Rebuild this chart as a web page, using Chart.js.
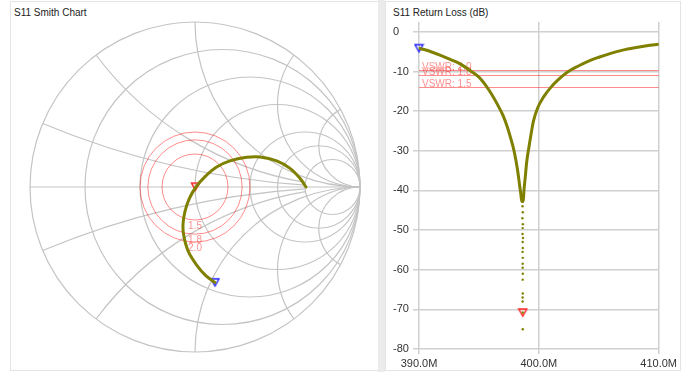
<!DOCTYPE html>
<html>
<head>
<meta charset="utf-8">
<script src="https://cdn.jsdelivr.net/npm/chart.js@4/dist/chart.umd.min.js"></script>
<style>
  html, body { margin: 0; padding: 0; background: #fff; width: 690px; height: 372px; overflow: hidden;
    font-family: "Liberation Sans", Arial, sans-serif; }
  .panel { position: absolute; box-sizing: border-box; border: 1px solid #e4e4e4; background: #fff; }
  .splitter { position: absolute; left: 378px; top: 0; width: 7px; height: 372px; background: #ebebeb; }
  .title { position: absolute; font-size: 10px; line-height: 10px; color: #222; white-space: nowrap; }
  canvas { position: absolute; }
</style>
</head>
<body>
<div class="panel" style="left:10px;top:1px;width:369px;height:370px"></div>
<div class="splitter"></div>
<div class="panel" style="left:385px;top:1px;width:296px;height:370px"></div>
<div class="title" style="left:14px;top:8px">S11 Smith Chart</div>
<div class="title" style="left:393px;top:8px">S11 Return Loss (dB)</div>
<canvas id="smith" width="368" height="372" style="left:10px;top:0"></canvas>
<canvas id="rl" width="295" height="372" style="left:385px;top:0"></canvas>

<script>
// ---- Smith chart: reflection coefficient of the sweep (real / imaginary part) ----
const smithRe = [0.121, 0.067, 0.010, -0.040, -0.067, -0.073, -0.061, -0.034, 0.006, 0.061,
                 0.131, 0.212, 0.313, 0.394, 0.495, 0.576, 0.636, 0.673];
const smithIm = [-0.578, -0.539, -0.473, -0.392, -0.301, -0.230, -0.149, -0.069, 0.000, 0.063,
                 0.121, 0.158, 0.180, 0.182, 0.158, 0.113, 0.053, 0.000];

// marker positions on the Smith chart (marker 1 = sweep start, marker 2 = best match)
const smithMarkerStart = { re: 0.121, im: -0.578 };
const smithMarkerMatch = { re: 0.003, im: 0.002 };

// grid of the Smith chart: constant-resistance circles and constant-reactance arcs
const smithResistances = [0.2, 0.5, 1, 2, 3, 5];
const smithReactances = [0.2, 0.5, 1, 2, 4];
const smithReactanceFromR = [5, 5, Infinity, Infinity, Infinity];   // arcs for small |X| stop at R = 5

// ---- Return loss vs frequency ----
const sweepMHz = [390.0, 391.0, 391.8, 392.6, 393.4, 394.2, 395.0, 395.6, 396.1, 396.6,
                  397.0, 397.35, 397.65, 397.9, 398.1, 398.27, 398.4, 398.5, 398.58,
                  398.7, 398.76, 398.85, 399.0, 399.18, 399.34, 399.55, 399.9, 400.4, 401.0,
                  401.6, 402.4, 403.3, 404.2, 405.0, 406.0, 407.0, 408.0, 409.0, 410.0];
const returnLossDb = [-4.1, -5.0, -5.9, -6.9, -8.0, -9.6, -11.4, -13.6, -15.9, -18.6,
                      -21.0, -23.8, -26.8, -29.6, -32.6, -35.8, -38.8, -41.0, -42.8,
                      -42.8, -40.0, -37.2, -32.5, -29.0, -26.0, -22.5, -19.2, -16.4, -14.0,
                      -12.1, -10.1, -8.6, -7.3, -6.4, -5.4, -4.6, -4.0, -3.5, -3.1];

// scattered readings at the bottom of the resonance
const dipMHz = [398.64, 398.66, 398.63, 398.67, 398.65, 398.64, 398.68, 398.65, 398.66, 398.64,
                398.66, 398.65, 398.65, 398.66, 398.65, 398.66, 398.65, 398.65, 398.66, 398.66];
const dipDb = [-44.0, -45.5, -47.0, -48.5, -49.5, -51.0, -52.0, -53.0, -54.5, -55.5,
               -57.0, -58.5, -59.5, -61.0, -62.5, -66.0, -67.0, -68.0, -70.8, -75.0];

const rlMarkerStart = { f: 390.0, db: -4.1 };
const rlMarkerMatch = { f: 398.66, db: -70.8 };

// axis ticks and VSWR reference levels
const freqTicksMHz = [390, 400, 410];
const dbTicks = [0, -10, -20, -30, -40, -50, -60, -70, -80];
const vswrLevels = [1.5, 1.8, 2.0];

// ---- styles ----
const TRACE = 'rgb(128,128,0)';
const GRID = '#c4c4c4';
const AXIS_GRID = '#d0d0d0';
const VSWR_COLOR = 'rgba(255,0,0,0.45)';
const TEXT = '#333';
const FONT_FAMILY = '"Liberation Sans", Arial, sans-serif';

function markerImage(color) {
  const c = document.createElement('canvas');
  c.width = 11; c.height = 11;
  const g = c.getContext('2d');
  g.strokeStyle = color;
  g.lineWidth = 1.4;
  g.beginPath();
  g.moveTo(1.5, 2.0);
  g.lineTo(9.5, 2.0);
  g.lineTo(5.5, 9.0);
  g.closePath();
  g.stroke();
  return c;
}
const blueMarker = markerImage('#2020ff');
const redMarker = markerImage('#ff2020');

// reflection coefficient of a normalised impedance r + jx
function gamma(r, x) {
  const d = (r + 1) * (r + 1) + x * x;
  return [(r * r - 1 + x * x) / d, (2 * x) / d];
}

const smithGridPlugin = {
  id: 'smithGrid',
  beforeDatasetsDraw(chart) {
    const { ctx, scales: { x, y } } = chart;
    const unit = x.getPixelForValue(1) - x.getPixelForValue(0);
    const circle = (re, im, rad) => {
      ctx.beginPath();
      ctx.arc(x.getPixelForValue(re), y.getPixelForValue(im), rad * unit, 0, Math.PI * 2);
      ctx.stroke();
    };
    ctx.save();
    ctx.lineWidth = 1.2;
    ctx.strokeStyle = GRID;

    circle(0, 0, 1);
    ctx.beginPath();
    ctx.moveTo(x.getPixelForValue(-1), y.getPixelForValue(0));
    ctx.lineTo(x.getPixelForValue(1), y.getPixelForValue(0));
    ctx.stroke();

    smithResistances.forEach(r => circle(r / (r + 1), 0, 1 / (r + 1)));

    smithReactances.forEach((xv, i) => {
      [1, -1].forEach(sign => {
        const xs = sign * xv;
        const cx = x.getPixelForValue(1), cy = y.getPixelForValue(sign / xv);
        const rad = unit / xv;
        const fromR = smithReactanceFromR[i];
        const s = isFinite(fromR) ? gamma(fromR, xs) : [1, 0];
        const e = gamma(0, xs);
        const a1 = Math.atan2(y.getPixelForValue(s[1]) - cy, x.getPixelForValue(s[0]) - cx);
        const a2 = Math.atan2(y.getPixelForValue(e[1]) - cy, x.getPixelForValue(e[0]) - cx);
        let d = a2 - a1;
        while (d > Math.PI) d -= 2 * Math.PI;
        while (d < -Math.PI) d += 2 * Math.PI;
        ctx.beginPath();
        ctx.arc(cx, cy, rad, a1, a1 + d, d < 0);
        ctx.stroke();
      });
    });

    // VSWR circles with their labels
    ctx.lineWidth = 1;
    ctx.strokeStyle = VSWR_COLOR;
    ctx.fillStyle = VSWR_COLOR;
    ctx.font = '10px ' + FONT_FAMILY;
    ctx.textAlign = 'center';
    ctx.textBaseline = 'middle';
    vswrLevels.forEach(s => {
      const g = (s - 1) / (s + 1);
      circle(0, 0, g);
      ctx.fillText(s.toFixed(1), x.getPixelForValue(0), y.getPixelForValue(0) + g * unit + 6);
    });
    ctx.restore();
  }
};

const vswrLinesPlugin = {
  id: 'vswrLines',
  beforeDatasetsDraw(chart) {
    const { ctx, chartArea: a, scales: { y } } = chart;
    ctx.save();
    ctx.strokeStyle = VSWR_COLOR;
    ctx.fillStyle = VSWR_COLOR;
    ctx.lineWidth = 1;
    ctx.font = '10px ' + FONT_FAMILY;
    ctx.textAlign = 'left';
    ctx.textBaseline = 'alphabetic';
    vswrLevels.forEach(s => {
      const g = (s - 1) / (s + 1);
      const py = Math.round(y.getPixelForValue(20 * Math.log10(g))) + 0.5;
      ctx.beginPath();
      ctx.moveTo(a.left, py);
      ctx.lineTo(a.right, py);
      ctx.stroke();
      ctx.fillText('VSWR: ' + s.toFixed(1), a.left + 3, py - 1);
    });
    ctx.restore();
  }
};

new Chart(document.getElementById('smith'), {
  type: 'scatter',
  data: {
    datasets: [
      {
        data: smithRe.map((re, i) => ({ x: re, y: smithIm[i] })),
        showLine: true,
        borderColor: TRACE,
        borderWidth: 3,
        tension: 0.3,
        borderCapStyle: 'round',
        borderJoinStyle: 'round',
        pointRadius: 0
      },
      {
        data: [{ x: smithMarkerStart.re, y: smithMarkerStart.im }],
        pointStyle: blueMarker, pointRadius: 5, clip: false
      },
      {
        data: [{ x: smithMarkerMatch.re, y: smithMarkerMatch.im }],
        pointStyle: redMarker, pointRadius: 5, clip: false
      }
    ]
  },
  options: {
    responsive: false,
    animation: false,
    events: [],
    layout: { padding: { left: 20, right: 18, top: 22, bottom: 20 } },
    plugins: { legend: { display: false }, tooltip: { enabled: false } },
    scales: {
      x: { type: 'linear', display: false, min: -1, max: 1 },
      y: { type: 'linear', display: false, min: -1, max: 1 }
    }
  },
  plugins: [smithGridPlugin]
});

new Chart(document.getElementById('rl'), {
  type: 'scatter',
  data: {
    datasets: [
      {
        data: sweepMHz.map((f, i) => ({ x: f, y: returnLossDb[i] })),
        showLine: true,
        borderColor: TRACE,
        borderWidth: 3,
        cubicInterpolationMode: 'monotone',
        borderCapStyle: 'round',
        borderJoinStyle: 'round',
        pointRadius: 0
      },
      {
        data: dipMHz.map((f, i) => ({ x: f, y: dipDb[i] })),
        pointRadius: 1.2,
        pointBorderWidth: 0,
        backgroundColor: TRACE
      },
      {
        data: [{ x: rlMarkerStart.f, y: rlMarkerStart.db }],
        pointStyle: blueMarker, pointRadius: 5, clip: false
      },
      {
        data: [{ x: rlMarkerMatch.f, y: rlMarkerMatch.db }],
        pointStyle: redMarker, pointRadius: 5, clip: false
      }
    ]
  },
  options: {
    responsive: false,
    animation: false,
    events: [],
    layout: { padding: { left: 8, right: 19, top: 22, bottom: 0 } },
    plugins: { legend: { display: false }, tooltip: { enabled: false } },
    scales: {
      x: {
        type: 'linear', min: 390, max: 410,
        afterBuildTicks: s => { s.ticks = freqTicksMHz.map(v => ({ value: v })); },
        afterFit: s => { s.height = 23; },
        ticks: {
          callback: v => v.toFixed(1) + 'M',
          font: { family: FONT_FAMILY, size: 11 }, color: TEXT,
          padding: 3, maxRotation: 0, autoSkip: false
        },
        grid: { color: AXIS_GRID, lineWidth: 1.5, tickLength: 5 },
        border: { display: false }
      },
      y: {
        type: 'linear', min: -80, max: 2.5,
        afterBuildTicks: s => { s.ticks = dbTicks.map(v => ({ value: v })); },
        afterFit: s => { s.width = 26; },
        ticks: {
          crossAlign: 'far',
          font: { family: FONT_FAMILY, size: 11 }, color: TEXT
        },
        grid: { color: AXIS_GRID, lineWidth: 1.5, tickLength: 6 },
        border: { display: false }
      }
    }
  },
  plugins: [vswrLinesPlugin]
});
</script>
</body>
</html>
